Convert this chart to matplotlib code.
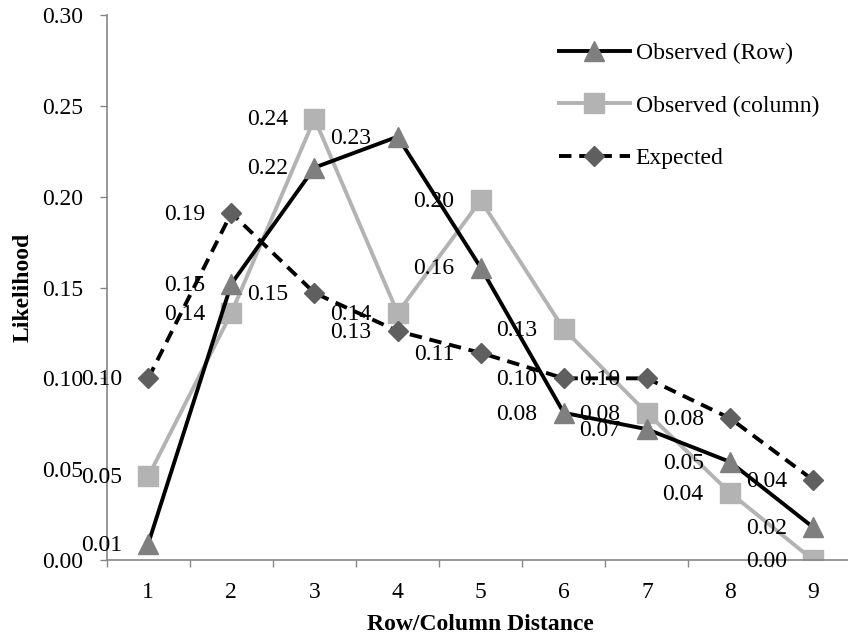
import numpy as np
import matplotlib
matplotlib.use('Agg')
import matplotlib.pyplot as plt

# data
distance = [1, 2, 3, 4, 5, 6, 7, 8, 9]
observed_row = [0.009, 0.152, 0.216, 0.233, 0.161, 0.081, 0.072, 0.054, 0.018]
observed_col = [0.046, 0.136, 0.243, 0.136, 0.198, 0.127, 0.081, 0.037, 0.0]
expected = [0.100, 0.191, 0.147, 0.126, 0.114, 0.100, 0.100, 0.078, 0.044]
y_ticks = [0.00, 0.05, 0.10, 0.15, 0.20, 0.25, 0.30]

plt.rcParams['font.family'] = ['Liberation Serif', 'DejaVu Serif']
plt.rcParams['font.size'] = 17

fig = plt.figure(figsize=(8.48, 6.36), dpi=100)
ax = fig.add_axes([106.7 / 848, 1 - 560 / 636, 748 / 848, 545 / 636])

ax.plot(distance, observed_row, color='black', lw=2.8, marker='^', ms=14,
        markerfacecolor='#7f7f7f', markeredgecolor='#7f7f7f', label='Observed (Row)', zorder=3)
ax.plot(distance, observed_col, color='#b3b3b3', lw=2.8, marker='s', ms=14,
        markerfacecolor='#b3b3b3', markeredgecolor='#b3b3b3', label='Observed (column)', zorder=2)
ax.plot(distance, expected, color='black', lw=2.8, dashes=(3.2, 2.0), marker='D', ms=10.5,
        markerfacecolor='#5f5f5f', markeredgecolor='#5f5f5f', label='Expected', zorder=4)

# data labels placed to the left of each point, like the original
for series in (observed_row, observed_col, expected):
    for x, v in zip(distance, series):
        ax.annotate(f"{v:.2f}", (x, v), xytext=(-19, -1), textcoords='offset points',
                    ha='right', va='center', zorder=5)

ax.set_xlim(0.5, 9.5)
ax.set_ylim(0, 0.30)
ax.set_yticks(y_ticks)
ax.set_yticklabels([f"{t:.2f}" for t in y_ticks])
ax.set_xticks(distance)
ax.set_xticks(np.arange(0.5, 10, 1), minor=True)
ax.tick_params(axis='x', which='major', length=0, pad=16)
ax.tick_params(axis='x', which='minor', length=5, color='#868686', width=1)
ax.tick_params(axis='y', length=5, color='#868686', width=1, pad=12)

for side in ['top', 'right']:
    ax.spines[side].set_visible(False)
for side in ['left', 'bottom']:
    ax.spines[side].set_color('#868686')
    ax.spines[side].set_linewidth(1.2)

ax.set_xlabel('Row/Column Distance', fontweight='bold', fontsize=17)
ax.set_ylabel('Likelihood', fontweight='bold', fontsize=17)
ax.xaxis.set_label_coords(0.5, -0.1)
ax.yaxis.set_label_coords(-0.098, 0.5)

ax.legend(loc='upper left', bbox_to_anchor=(559 / 848, 1 - 43 / 636), bbox_transform=fig.transFigure,
          frameon=False, handlelength=3.0, handletextpad=0.25, labelspacing=1.3,
          borderpad=0, borderaxespad=0)

fig.savefig('out.png', dpi=100)
